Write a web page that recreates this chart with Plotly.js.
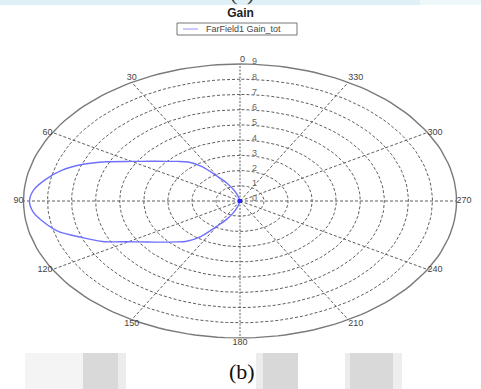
<!DOCTYPE html>
<html>
<head>
<meta charset="utf-8">
<script src="https://cdn.plot.ly/plotly-3.0.1.min.js"></script>
<style>html,body{margin:0;padding:0;background:#fff;}#chart{width:481px;height:389px;}</style>
</head>
<body>
<div id="chart"></div>
<script>
// ---- data ----
const angleDeg = [0,5,10,15,20,25,30,35,40,45,50,55,60,65,70,75,80,85,90,
  95,100,105,110,115,120,125,130,135,140,145,150,155,160,165,170,175,180,
  185,190,195,200,205,210,215,220,225,230,235,240,245,250,255,260,265,270,
  275,280,285,290,295,300,305,310,315,320,325,330,335,340,345,350,355,360];
const gainTot = [0,0,0.1,0.4,0.8,1.3,1.85,2.75,3.35,3.68,4.05,4.55,5.2,6.1,7.0,7.7,8.2,8.6,8.75,
  8.62,8.25,7.8,7.0,6.3,5.35,4.7,4.2,3.8,3.45,2.85,1.9,1.35,0.85,0.4,0.1,0,0,
  0,0,0,0,0,0,0,0,0,0,0,0,0,0,0,0,0,0,
  0,0,0,0,0,0,0,0,0,0,0,0,0,0,0,0,0,0];
const seriesName = 'FarField1 Gain_tot';
const radialTicks = [0,1,2,3,4,5,6,7,8,9];
const radialTickLabels = ['0','1','2','3','4','5','6','7','8','9'];
const angularTicks = [0,30,60,90,120,150,180,210,240,270,300,330];
const angularTickLabels = ['0','30','60','90','120','150','180','210','240','270','300','330'];
const rMax = 9;

// ---- polar -> cartesian (0 at top, angles increasing anticlockwise: 90 on the left) ----
const rad = d => d * Math.PI / 180;
const px = (r, d) => -r * Math.sin(rad(d));
const py = (r, d) => r * Math.cos(rad(d));

const traces = [];
const gridColor = '#5e5e5e';
const sans = 'Liberation Sans, Arial, sans-serif';

// grid ellipses
radialTicks.filter(r => r > 0).forEach(r => {
  const xs = [], ys = [];
  for (let d = 0; d <= 360; d += 2) { xs.push(px(r, d)); ys.push(py(r, d)); }
  const outer = r === rMax;
  traces.push({type:'scatter', mode:'lines', x:xs, y:ys, hoverinfo:'skip', showlegend:false,
    line:{color: outer ? '#7a7a7a' : gridColor, width: outer ? 1.4 : 1, dash: outer ? 'solid' : '3px,2px'}});
});
// spokes
angularTicks.forEach(d => {
  traces.push({type:'scatter', mode:'lines', x:[0, px(rMax, d)], y:[0, py(rMax, d)], hoverinfo:'skip', showlegend:false,
    line:{color:gridColor, width:1, dash: (d % 180 === 0) ? '2px,1.5px' : '3px,2px'}});
});
// angular labels
const angPos = {0:'top right',30:'top center',60:'middle left',90:'middle left',120:'middle left',150:'bottom center',
  180:'bottom center',210:'bottom right',240:'middle right',270:'middle right',300:'middle right',330:'top right'};
traces.push({type:'scatter', mode:'text', hoverinfo:'skip', showlegend:false,
  x: angularTicks.map(d => px(rMax, d)), y: angularTicks.map(d => py(rMax, d)),
  text: angularTickLabels, textposition: angularTicks.map(d => angPos[d]),
  textfont:{family:sans, size:9, color:'#444'}});
// radial labels (along the 0° spoke, just to its right)
traces.push({type:'scatter', mode:'text', hoverinfo:'skip', showlegend:false,
  x: radialTicks.map(r => r === rMax ? 0.5 : 0.5), y: radialTicks.map(r => r + 0.12),
  text: radialTickLabels, textposition:'middle right',
  textfont:{family:sans, size:9, color:'#666'}});

// gain curve
traces.push({type:'scatter', mode:'lines', name: seriesName, showlegend:false,
  x: gainTot.map((g, i) => px(g, angleDeg[i])), y: gainTot.map((g, i) => py(g, angleDeg[i])),
  line:{color:'#7070ff', width:1.4, shape:'spline', smoothing:0.8}});
// zero-gain points (collapsed at centre)
traces.push({type:'scatter', mode:'markers', showlegend:false, hoverinfo:'skip',
  x: gainTot.filter(g => g === 0).map(() => 0), y: gainTot.filter(g => g === 0).map(() => 0),
  marker:{color:'#2a2aff', size:4}});

const W = 481, H = 389;
const cx = 240, cy = 201, ux = 216.5 / rMax, uy = 137 / rMax;
const pxX = v => v / W, pxY = v => 1 - v / H;
const rect = (x0, x1, y0, y1, c) => ({type:'rect', xref:'paper', yref:'paper', x0:pxX(x0), x1:pxX(x1), y0:pxY(y1), y1:pxY(y0), fillcolor:c, line:{width:0}, layer:'below'});

const layout = {
  width: W, height: H,
  margin:{l:0, r:0, t:0, b:0},
  paper_bgcolor:'#fff', plot_bgcolor:'rgba(0,0,0,0)',
  showlegend: false,
  title:{text:'<b>Gain</b>', font:{family:sans, size:12, color:'#222'},
    x:0.5, xanchor:'center', y: pxY(13), yanchor:'middle', yref:'container'},
  xaxis:{range:[-cx/ux, (W-cx)/ux], visible:false, fixedrange:true, showgrid:false, zeroline:false},
  yaxis:{range:[-(H-cy)/uy, cy/uy], visible:false, fixedrange:true, showgrid:false, zeroline:false},
  shapes:[
    rect(0, 420, 0, 5, '#dff1f6'),
    rect(420, 481, 0, 5, '#eef8fb'),
    rect(25, 83, 353, 389, '#f4f4f4'),
    rect(83, 118, 353, 389, '#d9d9d9'),
    rect(118, 126, 353, 389, '#ececec'),
    rect(256, 263, 353, 389, '#ececec'),
    rect(263, 298, 353, 389, '#d8d8d8'),
    rect(345, 350, 353, 389, '#ececec'),
    rect(350, 393, 353, 389, '#d9d9d9'),
    rect(393, 402, 353, 389, '#eeeeee'),
    // legend box and line sample
    {type:'rect', xref:'paper', yref:'paper', x0:pxX(177), x1:pxX(297), y0:pxY(35), y1:pxY(23), fillcolor:'#fff', line:{color:'#777', width:1}},
    {type:'line', xref:'paper', yref:'paper', x0:pxX(183), x1:pxX(198), y0:pxY(29), y1:pxY(29), line:{color:'#b8b8ff', width:1.5}}
  ],
  annotations:[
    {xref:'paper', yref:'paper', x:pxX(204), y:pxY(29), text:seriesName, showarrow:false,
      font:{family:sans, size:9, color:'#444'}, xanchor:'left', yanchor:'middle'},
    {xref:'paper', yref:'paper', x:pxX(242), y:pxY(371), text:'(b)', showarrow:false,
      font:{family:'Liberation Serif, Times New Roman, serif', size:22, color:'#111'}, xanchor:'center', yanchor:'middle'},
    {xref:'paper', yref:'paper', x:pxX(242), y:pxY(-8), text:'(a)', showarrow:false,
      font:{family:'Liberation Serif, Times New Roman, serif', size:22, color:'#333'}, xanchor:'center', yanchor:'middle'}
  ]
};

Plotly.newPlot('chart', traces, layout, {displayModeBar:false, staticPlot:true});
</script>
</body>
</html>
